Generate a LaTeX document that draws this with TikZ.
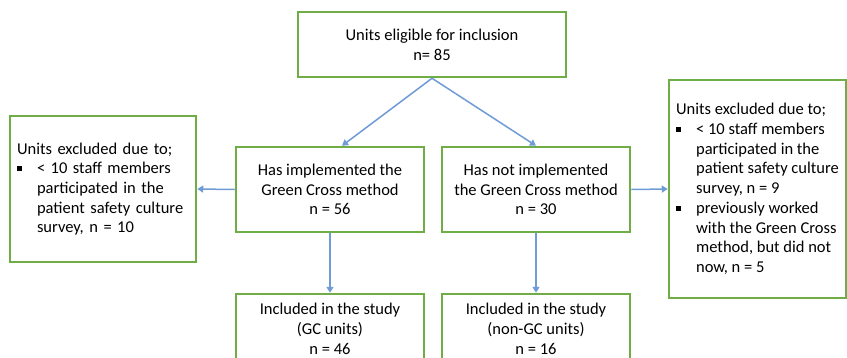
\documentclass[tikz,border=0pt]{standalone}
\usepackage{fontspec}
\setmainfont{Carlito}
\usetikzlibrary{arrows.meta}
\definecolor{boxgreen}{RGB}{112,173,71}
\definecolor{flowblue}{RGB}{111,155,214}
\newcommand{\sqbul}{\makebox[20pt][l]{\rule[2.5pt]{5pt}{5pt}}}
\newcommand{\indt}{\makebox[20pt]{}}
\begin{document}
\begin{tikzpicture}[x=1pt,y=-1pt,
    stage/.style={draw=boxgreen,line width=2.5pt,fill=white,
        inner sep=0pt,align=center,
        font=\fontsize{16.5}{19.7}\selectfont},
    excl/.style={draw=boxgreen,line width=2.5pt,fill=white,
        inner xsep=7pt,inner ysep=0pt,align=left,
        font=\fontsize{16.5}{19.7}\selectfont},
    flow/.style={draw=flowblue,line width=1.5pt,
        -{Triangle[length=6pt,width=7pt]}}
]
    \useasboundingbox (0,0) rectangle (847,357);

    \node[stage,minimum width=268pt,minimum height=65pt] (elig) at (432,44.5)
        {Units eligible for inclusion\\n= 85};

    \node[stage,minimum width=188pt,minimum height=85pt] (gc) at (330,189.5)
        {Has implemented the\\Green Cross method\\n = 56};
    \node[stage,minimum width=188pt,minimum height=85pt] (ngc) at (536,189.5)
        {Has not implemented\\the Green Cross method\\n = 30};

    \node[excl,text width=172pt,minimum height=146pt] (exl) at (103,189)
        {Units excluded due to;\\
         \sqbul < 10 staff members\\
         \indt participated in the\\
         \indt patient safety culture\\
         \indt survey, n = 10};
    \node[excl,minimum width=177pt,minimum height=218pt] (exr) at (757.5,189)
        {Units excluded due to;\\
         \sqbul < 10 staff members\\
         \indt participated in the\\
         \indt patient safety culture\\
         \indt survey, n = 9\\
         \sqbul previously worked\\
         \indt with the Green Cross\\
         \indt method, but did not\\
         \indt now, n = 5};

    \node[stage,minimum width=188pt,minimum height=70pt] (incgc) at (330,329)
        {Included in the study\\(GC units)\\n = 46};
    \node[stage,minimum width=188pt,minimum height=70pt] (incngc) at (536,329)
        {Included in the study\\(non-GC units)\\n = 16};

    \coordinate (gcin) at ([xshift=12pt]gc.north);

    \foreach \x/\y in {elig.south/gcin,elig.south/ngc.north,gc.west/exl.east,
        ngc.east/exr.west,gc.south/incgc.north,ngc.south/incngc.north}
        \draw[flow] (\x)--(\y);
\end{tikzpicture}
\end{document}
